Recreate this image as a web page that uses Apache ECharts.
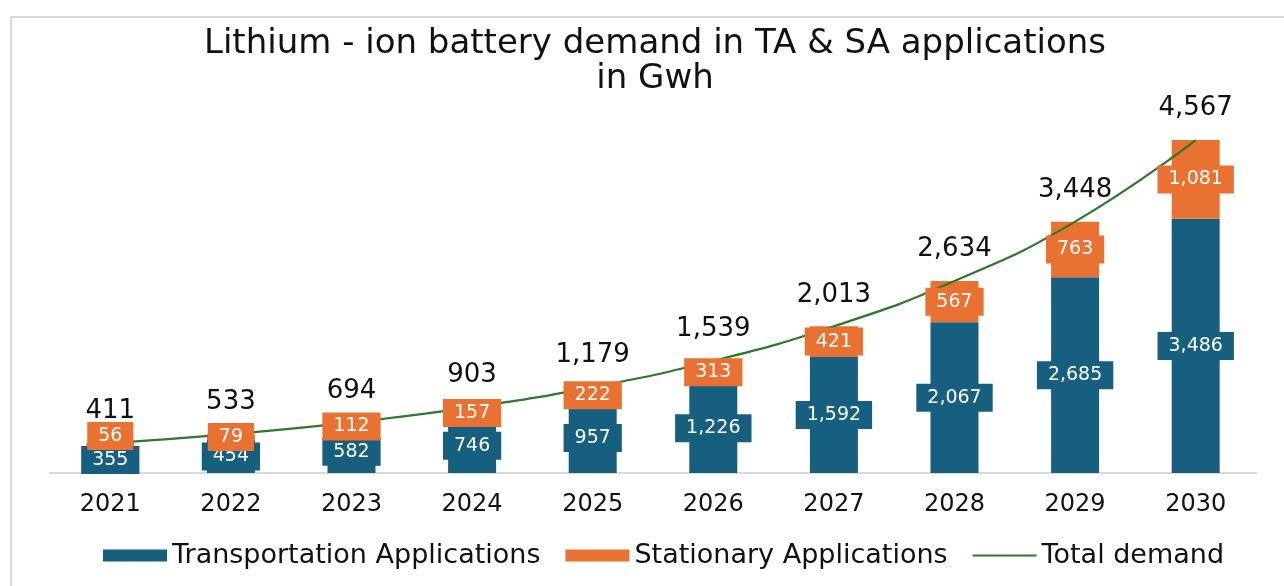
<!DOCTYPE html>
<html>
<head>
<meta charset="utf-8">
<script src="https://cdn.jsdelivr.net/npm/echarts@6/dist/echarts.min.js"></script>
<style>
html,body{margin:0;padding:0;background:#fff;}
#c{width:1284px;height:586px;}
</style>
</head>
<body>
<div id="c"></div>
<script>
const years = ['2021','2022','2023','2024','2025','2026','2027','2028','2029','2030'];
const transportation = [355,454,582,746,957,1226,1592,2067,2685,3486];
const stationary = [56,79,112,157,222,313,421,567,763,1081];
const totalDemand = [411,533,694,903,1179,1539,2013,2634,3448,4567];

const FONT = 'DejaVu Sans';
const blue = '#175f7f';
const orange = '#e97132';
const green = '#2b7a2b';
const fmt = v => Number(v).toLocaleString('en-US');

const boxLabel = (bg) => ({
  show: true,
  position: 'inside',
  color: '#fff',
  fontFamily: FONT,
  fontSize: 19,
  backgroundColor: bg,
  padding: [5, 11, 4, 11],
  formatter: p => fmt(p.data.v)
});

// label anchors: middle of each stacked segment (through the value axis)
const blueMid = transportation.map((v, i) => ({value: [i, v / 2], v: v}));
const orangeMid = stationary.map((v, i) => ({
  value: [i, transportation[i] + v / 2], v: v,
  label: i === 0 ? {offset: [0, -9]} : undefined
}));

const hidden = {color: 'rgba(0,0,0,0)', opacity: 1};

const chart = echarts.init(document.getElementById('c'));
chart.setOption({
  animation: false,
  title: {
    text: 'Lithium - ion battery demand in TA & SA applications\nin Gwh',
    left: 650,
    textAlign: 'center',
    top: 22,
    textStyle: {fontFamily: FONT, fontSize: 34, fontWeight: 'normal', color: '#111', lineHeight: 35}
  },
  graphic: [{
    type: 'rect',
    shape: {x: 11, y: 17, width: 1300, height: 600},
    style: {fill: 'none', stroke: '#d9d9d9', lineWidth: 2},
    silent: true
  }],
  legend: {
    bottom: 12,
    left: 98,
    itemWidth: 64,
    itemHeight: 12,
    itemGap: 25,
    textStyle: {fontFamily: FONT, fontSize: 27, color: '#111'},
    data: [
      {name: 'Transportation Applications', icon: 'rect'},
      {name: 'Stationary Applications', icon: 'rect'},
      {name: 'Total demand', icon: 'path://M0,0 L64,0 L64,2 L0,2 Z'}
    ]
  },
  grid: {left: 50, right: 28, top: 108.5, bottom: 113, containLabel: false},
  xAxis: {
    type: 'category',
    data: years,
    axisLine: {lineStyle: {color: '#d9d9d9', width: 2}},
    axisTick: {show: false},
    axisLabel: {fontFamily: FONT, fontSize: 24, color: '#111', margin: 20}
  },
  yAxis: {
    type: 'value',
    min: 0,
    max: 5000,
    show: false,
    splitLine: {show: false}
  },
  series: [
    {
      name: 'Transportation Applications',
      type: 'bar',
      stack: 'a',
      barWidth: 48,
      z: 2,
      itemStyle: {color: blue},
      data: transportation
    },
    {
      name: 'Stationary Applications',
      type: 'bar',
      stack: 'a',
      barWidth: 48,
      z: 2,
      itemStyle: {color: orange},
      data: stationary
    },
    {
      name: 'Total demand',
      type: 'line',
      smooth: true,
      symbol: 'none',
      z: 3,
      lineStyle: {color: green, width: 2.2},
      itemStyle: {color: green},
      data: totalDemand
    },
    {
      name: 'blueLabels',
      type: 'scatter',
      z: 4,
      symbolSize: 1,
      itemStyle: hidden,
      label: boxLabel(blue),
      data: blueMid
    },
    {
      name: 'orangeLabels',
      type: 'scatter',
      z: 4,
      symbolSize: 1,
      itemStyle: hidden,
      label: boxLabel(orange),
      data: orangeMid
    },
    {
      name: 'totals',
      type: 'scatter',
      z: 4,
      symbolSize: 1,
      itemStyle: hidden,
      label: {
        show: true,
        position: 'top',
        distance: 18,
        fontFamily: FONT,
        fontSize: 26,
        color: '#111',
        formatter: p => fmt(p.value[1])
      },
      data: totalDemand.map((v, i) => [i, v])
    }
  ]
});
</script>
</body>
</html>
